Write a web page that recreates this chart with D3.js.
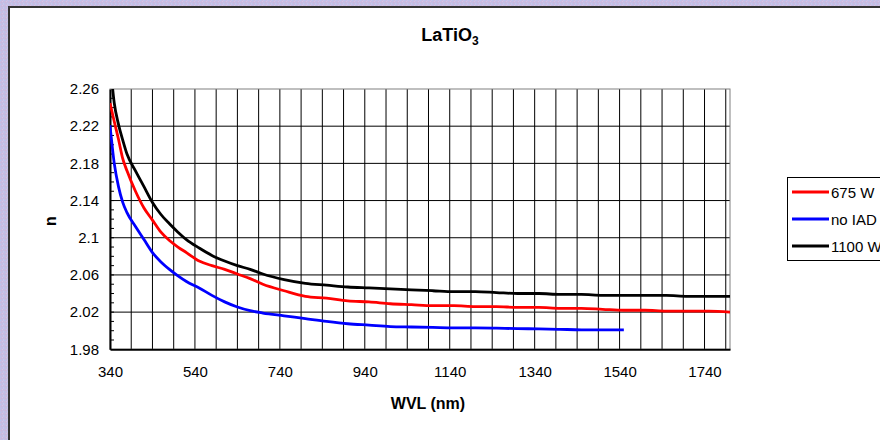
<!DOCTYPE html>
<html>
<head>
<meta charset="utf-8">
<style>
  body { margin: 0; padding: 0; overflow: hidden; }
  svg { display: block; font-family: "Liberation Sans", Arial, sans-serif; }
</style>
</head>
<body>
<svg class="chart" width="880" height="440"></svg>

<script src="https://d3js.org/d3.v7.min.js"></script>
<script>
  // wavelengths (nm) shared by all series
  const wvl = [340, 350, 360, 370, 380, 400, 420, 440, 460, 480, 500, 520, 550, 580, 610, 640, 670, 700,
    750, 800, 850, 900, 950, 1000, 1050, 1100, 1150, 1200, 1250, 1300, 1350, 1400, 1450, 1500, 1550,
    1600, 1650, 1700, 1750, 1800];

  const n675 = [2.245, 2.225, 2.206, 2.185, 2.172, 2.150, 2.132, 2.119, 2.106, 2.097, 2.090, 2.084, 2.075,
    2.070, 2.066, 2.061, 2.056, 2.050, 2.043, 2.037, 2.035, 2.032, 2.031, 2.029, 2.028, 2.027, 2.027,
    2.026, 2.026, 2.025, 2.025, 2.024, 2.024, 2.023, 2.022, 2.022, 2.021, 2.021, 2.021, 2.020];

  const nNoIAD = [2.221, 2.180, 2.155, 2.138, 2.127, 2.112, 2.098, 2.084, 2.074, 2.066, 2.059, 2.053, 2.046,
    2.038, 2.031, 2.0255, 2.0215, 2.019, 2.016, 2.013, 2.010, 2.0075, 2.006, 2.0045, 2.004, 2.0035, 2.003,
    2.003, 2.0027, 2.0022, 2.002, 2.0015, 2.001, 2.001, 2.001];

  const n1100 = [2.290, 2.245, 2.222, 2.205, 2.190, 2.172, 2.155, 2.138, 2.125, 2.115, 2.106, 2.098, 2.089,
    2.081, 2.075, 2.070, 2.066, 2.061, 2.055, 2.051, 2.049, 2.047, 2.046, 2.045, 2.044, 2.043, 2.042,
    2.042, 2.041, 2.040, 2.040, 2.039, 2.039, 2.038, 2.038, 2.038, 2.038, 2.037, 2.037, 2.037];

  const seriesNames = ["675 W", "no IAD", "1100 W"];
  const seriesColors = ["#ff0000", "#0000ff", "#000000"];
  const seriesValues = [n675, nNoIAD, n1100];

  const xTicks = [340, 540, 740, 940, 1140, 1340, 1540, 1740];
  const yTicks = [1.98, 2.02, 2.06, 2.1, 2.14, 2.18, 2.22, 2.26];

  const svg = d3.select("svg.chart");

  // lavender textured background
  const defs = svg.append("defs");
  const pat = defs.append("pattern")
    .attr("id", "tex").attr("width", 4).attr("height", 4)
    .attr("patternUnits", "userSpaceOnUse");
  pat.append("rect").attr("width", 4).attr("height", 4).attr("fill", "#c6bde3");
  [[0, 0, "#b9c4ee"], [2, 1, "#d6c4e4"], [1, 2, "#cbb6dc"], [3, 3, "#bfcaef"], [3, 0, "#d0c0e6"]]
    .forEach(([px, py, c]) => pat.append("rect").attr("x", px).attr("y", py)
      .attr("width", 1).attr("height", 1).attr("fill", c));

  svg.append("rect").attr("width", 880).attr("height", 440).attr("fill", "url(#tex)");

  // chart area
  svg.append("rect")
    .attr("x", 9).attr("y", 7).attr("width", 900).attr("height", 450)
    .attr("fill", "#fff").attr("stroke", "#333").attr("stroke-width", 2);

  const pLeft = 110, pRight = 730, pTop = 89, pBottom = 349.3;

  const x = d3.scaleLinear().domain([340, 1800]).range([pLeft, pRight]);
  const y = d3.scaleLinear().domain([1.98, 2.26]).range([pBottom, pTop]);

  svg.append("clipPath").attr("id", "plotclip")
    .append("rect").attr("x", pLeft).attr("y", pTop)
    .attr("width", pRight - pLeft).attr("height", pBottom - pTop);

  const grid = svg.append("g").attr("stroke", "#000").attr("stroke-width", 1);

  // vertical gridlines every 50 nm
  grid.selectAll("line.v")
    .data(d3.range(390, 1800, 50))
    .join("line").attr("class", "v")
    .attr("x1", d => x(d)).attr("x2", d => x(d))
    .attr("y1", pTop).attr("y2", pBottom);

  // horizontal gridlines
  grid.selectAll("line.h")
    .data(yTicks.slice(1, -1))
    .join("line").attr("class", "h")
    .attr("x1", pLeft).attr("x2", pRight)
    .attr("y1", d => y(d)).attr("y2", d => y(d));

  // plot border
  svg.append("rect")
    .attr("x", pLeft).attr("y", pTop)
    .attr("width", pRight - pLeft).attr("height", pBottom - pTop)
    .attr("fill", "none").attr("stroke", "#808080").attr("stroke-width", 1);

  // minor y ticks (inside)
  svg.append("g").attr("stroke", "#000")
    .selectAll("line")
    .data(d3.range(1.99, 2.26, 0.01))
    .join("line")
    .attr("x1", pLeft).attr("x2", pLeft + 4)
    .attr("y1", d => y(d)).attr("y2", d => y(d));

  // axes
  const xAxis = svg.append("g")
    .attr("transform", `translate(0,${pBottom})`)
    .call(d3.axisBottom(x).tickValues(xTicks).tickSize(0).tickPadding(17).tickFormat(d3.format("d")));
  xAxis.select(".domain").attr("stroke", "#000").attr("stroke-width", 2);

  const yAxis = svg.append("g")
    .attr("transform", `translate(${pLeft},0)`)
    .call(d3.axisLeft(y).tickValues(yTicks).tickSize(0).tickPadding(11)
      .tickFormat(d => d === 2.1 ? "2.1" : d3.format(".2f")(d)));
  yAxis.select(".domain").attr("stroke", "#000").attr("stroke-width", 2);

  svg.selectAll(".tick text")
    .attr("font-family", "Liberation Sans, Arial, sans-serif")
    .attr("font-size", 15).attr("fill", "#000");

  // series
  const line = d3.line()
    .x(d => x(d[0])).y(d => y(d[1]))
    .curve(d3.curveMonotoneX);

  svg.append("g").attr("clip-path", "url(#plotclip)")
    .selectAll("path")
    .data(seriesValues)
    .join("path")
    .attr("fill", "none")
    .attr("stroke", (d, i) => seriesColors[i])
    .attr("stroke-width", 2.8)
    .attr("d", vals => line(vals.map((v, i) => [wvl[i], v])));

  // titles
  const title = svg.append("text")
    .attr("x", 450).attr("y", 41)
    .attr("text-anchor", "middle")
    .attr("font-size", 18).attr("font-weight", "bold");
  title.append("tspan").text("LaTiO");
  title.append("tspan").attr("font-size", 12).attr("dy", 4).text("3");

  svg.append("text")
    .attr("x", 428).attr("y", 409)
    .attr("text-anchor", "middle")
    .attr("font-size", 16).attr("font-weight", "bold")
    .text("WVL (nm)");

  svg.append("text")
    .attr("transform", "translate(56,221) rotate(-90)")
    .attr("text-anchor", "middle")
    .attr("font-size", 16).attr("font-weight", "bold")
    .text("n");

  // legend (runs off the right edge, as in the reference)
  const legend = svg.append("g");
  legend.append("rect")
    .attr("x", 787.5).attr("y", 177.5).attr("width", 130).attr("height", 83)
    .attr("fill", "#fff").attr("stroke", "#000").attr("stroke-width", 1);

  const item = legend.selectAll("g.item")
    .data(seriesNames)
    .join("g").attr("class", "item")
    .attr("transform", (d, i) => `translate(0,${192 + i * 27})`);
  item.append("line")
    .attr("x1", 792).attr("x2", 829)
    .attr("stroke", (d, i) => seriesColors[i]).attr("stroke-width", 2.8);
  item.append("text")
    .attr("x", 831).attr("y", 5.5)
    .attr("font-size", 15)
    .text(d => d);
</script>
</body>
</html>
